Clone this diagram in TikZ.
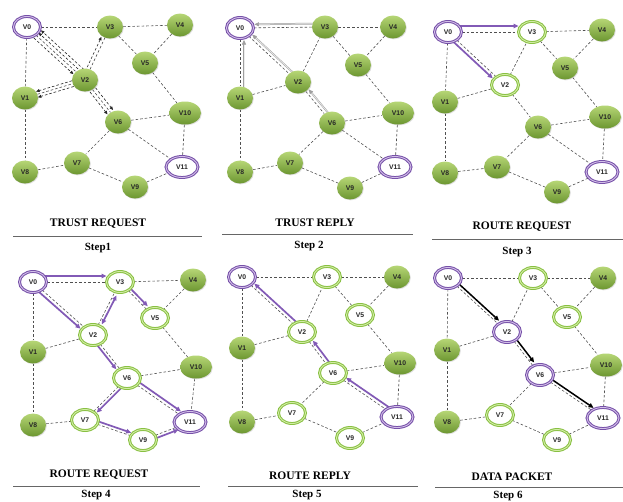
\documentclass[tikz,border=0pt]{standalone}
\usepackage{fontspec}
\setmainfont{Liberation Serif}
\newfontfamily\lblfont{Liberation Sans}
\usetikzlibrary{shapes.geometric,arrows.meta,calc,shadows,backgrounds}
\definecolor{gtop}{RGB}{182,214,118}
\definecolor{gbot}{RGB}{108,150,48}
\definecolor{gring}{RGB}{136,192,66}
\definecolor{gringin}{RGB}{210,236,165}
\definecolor{pring}{RGB}{118,80,168}
\definecolor{pringin}{RGB}{210,190,232}
\definecolor{edgec}{RGB}{80,80,80}
\definecolor{parrc}{RGB}{130,90,182}
\tikzset{
  vbase/.style={ellipse, inner sep=1pt, font=\lblfont\bfseries\fontsize{6.8}{7}\selectfont, text=black!85},
  fnode/.style={vbase, minimum width=26pt, minimum height=23pt, top color=gtop, bottom color=gbot, draw=none,
    drop shadow={opacity=0.25, shadow xshift=0.8pt, shadow yshift=-0.8pt}},
  pnode/.style={vbase, minimum width=27pt, minimum height=21pt, fill=white, draw=pring, double=pringin, double distance=0.9pt, line width=1pt},
  gnode/.style={vbase, minimum width=27pt, minimum height=21pt, fill=white, draw=gring, double=gringin, double distance=0.9pt, line width=1pt},
  wide/.style={minimum width=32pt},
  edge/.style={draw=edgec, line width=0.6pt, dash pattern=on 2.6pt off 2pt},
  reqa/.style={edge, draw=black!85, shorten <=8pt, shorten >=12.5pt, -{Triangle[length=3.5pt,width=3pt]}},
  repa/.style={draw=gray!75, double=gray!15, double distance=0.7pt, line width=0.5pt, shorten <=8pt, shorten >=13.5pt, -{Triangle[length=4.5pt,width=4pt]}},
  parr/.style={draw=parrc, line width=1.7pt, shorten <=8pt, shorten >=13.5pt, -{Triangle[length=5pt,width=4.5pt]}},
  parrtwo/.style={draw=parrc, line width=1.7pt, shorten <=13.5pt, shorten >=13.5pt, {Triangle[length=5pt,width=4.5pt]}-{Triangle[length=5pt,width=4.5pt]}},
  barr/.style={draw=black, line width=1.5pt, shorten <=8pt, shorten >=13.5pt, -{Triangle[length=5pt,width=4.5pt]}},
  ttl/.style={font=\bfseries\fontsize{11.5}{13}\selectfont},
  steplbl/.style={font=\bfseries\fontsize{11}{13}\selectfont, anchor=base},
  rulel/.style={draw=black!60, line width=0.8pt}
}
\newcommand{\nd}[5]{\node[#1] (#2) at (#3,#4) {#5};}
\newcommand{\oar}[4]{\draw[#1] ($(#2)!#4pt!90:(#3)$) -- ($(#3)!#4pt!-90:(#2)$);}
\begin{document}
\begin{tikzpicture}[x=1pt,y=-1pt]
\useasboundingbox (0,0) rectangle (623,501);
% ---------- Panel 1
\nd{pnode}{av0}{27}{27}{V0}
\nd{fnode}{av3}{110}{27}{V3}
\nd{fnode}{av4}{180}{25}{V4}
\nd{fnode}{av5}{145}{63}{V5}
\nd{fnode}{av2}{85}{80}{V2}
\nd{fnode}{av1}{25}{98}{V1}
\nd{fnode,wide}{av10}{185}{113}{V10}
\nd{fnode}{av6}{118}{122}{V6}
\nd{pnode,wide}{av11}{182}{167}{V11}
\nd{fnode}{av7}{77}{163}{V7}
\nd{fnode}{av8}{25}{172}{V8}
\nd{fnode}{av9}{135}{187}{V9}
% ---------- Panel 2
\nd{pnode}{bv0}{240}{28}{V0}
\nd{fnode}{bv3}{325}{27}{V3}
\nd{fnode}{bv4}{393}{27}{V4}
\nd{fnode}{bv5}{358}{65}{V5}
\nd{fnode}{bv2}{298}{82}{V2}
\nd{fnode}{bv1}{240}{98}{V1}
\nd{fnode,wide}{bv10}{398}{113}{V10}
\nd{fnode}{bv6}{332}{123}{V6}
\nd{pnode,wide}{bv11}{395}{167}{V11}
\nd{fnode}{bv7}{290}{163}{V7}
\nd{fnode}{bv8}{240}{172}{V8}
\nd{fnode}{bv9}{350}{188}{V9}
% ---------- Panel 3
\nd{pnode}{cv0}{448}{32}{V0}
\nd{gnode}{cv3}{532}{32}{V3}
\nd{fnode}{cv4}{602}{30}{V4}
\nd{fnode}{cv5}{565}{68}{V5}
\nd{gnode}{cv2}{505}{85}{V2}
\nd{fnode}{cv1}{445}{102}{V1}
\nd{fnode,wide}{cv10}{605}{117}{V10}
\nd{fnode}{cv6}{538}{127}{V6}
\nd{pnode,wide}{cv11}{602}{172}{V11}
\nd{fnode}{cv7}{497}{167}{V7}
\nd{fnode}{cv8}{445}{173}{V8}
\nd{fnode}{cv9}{557}{192}{V9}
% ---------- Panel 4
\nd{pnode}{dv0}{33}{282}{V0}
\nd{gnode}{dv3}{120}{282}{V3}
\nd{fnode}{dv4}{193}{280}{V4}
\nd{gnode}{dv5}{155}{318}{V5}
\nd{gnode}{dv2}{93}{335}{V2}
\nd{fnode}{dv1}{33}{352}{V1}
\nd{fnode,wide}{dv10}{196}{367}{V10}
\nd{gnode}{dv6}{127}{378}{V6}
\nd{pnode,wide}{dv11}{190}{422}{V11}
\nd{gnode}{dv7}{85}{420}{V7}
\nd{fnode}{dv8}{33}{425}{V8}
\nd{gnode}{dv9}{143}{440}{V9}
% ---------- Panel 5
\nd{pnode}{ev0}{242}{277}{V0}
\nd{gnode}{ev3}{327}{277}{V3}
\nd{fnode}{ev4}{397}{277}{V4}
\nd{gnode}{ev5}{360}{315}{V5}
\nd{gnode}{ev2}{302}{332}{V2}
\nd{fnode}{ev1}{242}{348}{V1}
\nd{fnode,wide}{ev10}{400}{363}{V10}
\nd{gnode}{ev6}{333}{373}{V6}
\nd{pnode,wide}{ev11}{397}{417}{V11}
\nd{gnode}{ev7}{292}{413}{V7}
\nd{fnode}{ev8}{242}{422}{V8}
\nd{gnode}{ev9}{350}{438}{V9}
% ---------- Panel 6
\nd{pnode}{fv0}{448}{278}{V0}
\nd{gnode}{fv3}{533}{278}{V3}
\nd{fnode}{fv4}{603}{278}{V4}
\nd{gnode}{fv5}{567}{317}{V5}
\nd{pnode}{fv2}{507}{332}{V2}
\nd{fnode}{fv1}{447}{350}{V1}
\nd{fnode,wide}{fv10}{606}{365}{V10}
\nd{pnode}{fv6}{540}{375}{V6}
\nd{pnode,wide}{fv11}{603}{418}{V11}
\nd{gnode}{fv7}{500}{415}{V7}
\nd{fnode}{fv8}{447}{422}{V8}
\nd{gnode}{fv9}{557}{440}{V9}
% ---------- titles
\node[ttl] (t1) at (98,224) {TRUST REQUEST};
\node[ttl] (t2) at (315,223) {TRUST REPLY};
\node[ttl] (t3) at (522,227) {ROUTE REQUEST};
\node[ttl] (t4) at (99,475) {ROUTE REQUEST};
\node[ttl] (t5) at (310,476) {ROUTE REPLY};
\node[ttl] (t6) at (512,477) {DATA PACKET};
\node[steplbl] (s1) at (98,250) {Step1};
\node[steplbl] (s2) at (309,248) {Step 2};
\node[steplbl] (s3) at (517,254) {Step 3};
\node[steplbl] (s4) at (96,497.5) {Step 4};
\node[steplbl] (s5) at (307,497.5) {Step 5};
\node[steplbl] (s6) at (508,498) {Step 6};
\coordinate (r1a) at (13,236);  \coordinate (r1b) at (202,236);
\coordinate (r2a) at (222,234); \coordinate (r2b) at (413,234);
\coordinate (r3a) at (432,239); \coordinate (r3b) at (623,239);
\coordinate (r4a) at (13,486);  \coordinate (r4b) at (200,486);
\coordinate (r5a) at (228,486); \coordinate (r5b) at (418,486);
\coordinate (r6a) at (435,487); \coordinate (r6b) at (623,487);
\draw[rulel] (r1a) -- (r1b);
\draw[rulel] (r2a) -- (r2b);
\draw[rulel] (r3a) -- (r3b);
\draw[rulel] (r4a) -- (r4b);
\draw[rulel] (r5a) -- (r5b);
\draw[rulel] (r6a) -- (r6b);
\begin{pgfonlayer}{background}
\fill[white] (0,0) rectangle (623,501);
\foreach \p in {a,b,c,d,e,f}{
  \foreach \u/\w in {v0/v3,v3/v4,v0/v1,v0/v2,v1/v2,v2/v3,v3/v5,v4/v5,v5/v10,v2/v6,v6/v10,v10/v11,v6/v11,v6/v7,v1/v8,v8/v7,v7/v9,v9/v11}
    \draw[edge] (\p\u) -- (\p\w);
}
% panel 1 : trust request
\oar{reqa}{av0}{av2}{-3.5}
\oar{reqa}{av2}{av0}{-3.5}
\oar{reqa}{av2}{av0}{-7}
\oar{reqa}{av2}{av1}{3}
\oar{reqa}{av2}{av1}{-3}
\oar{reqa}{av2}{av3}{3.5}
\oar{reqa}{av2}{av6}{3.5}
\oar{reqa}{av2}{av6}{-3.5}
% panel 2 : trust reply
\oar{repa,shorten >=12pt}{bv1}{bv0}{-4}
\oar{repa,shorten >=14.5pt}{bv3}{bv0}{-3.5}
\oar{repa}{bv2}{bv0}{-3.5}
\oar{repa,shorten >=12.5pt}{bv6}{bv2}{-3.5}
% panel 3 : route request
\oar{parr,line width=2pt,shorten >=13.5pt}{cv0}{cv3}{6}
\oar{parr}{cv0}{cv2}{-3.5}
% panel 4 : route request
\oar{parr,line width=2pt,shorten >=13.5pt}{dv0}{dv3}{6}
\oar{parr}{dv0}{dv2}{-3.5}
\oar{parr}{dv3}{dv5}{3}
\oar{parrtwo}{dv2}{dv3}{-3}
\oar{parr}{dv2}{dv6}{-3}
\oar{parr}{dv6}{dv11}{3.5}
\oar{parr}{dv6}{dv7}{3}
\oar{parr}{dv7}{dv9}{3}
\oar{parr}{dv9}{dv11}{-3}
% panel 5 : route reply
\oar{parr}{ev11}{ev6}{-3.5}
\oar{parr}{ev6}{ev2}{-3.5}
\oar{parr}{ev2}{ev0}{-3.5}
% panel 6 : data packet
\oar{barr}{fv0}{fv2}{3}
\oar{barr}{fv2}{fv6}{3}
\oar{barr}{fv6}{fv11}{3}
\end{pgfonlayer}
\end{tikzpicture}
\end{document}
